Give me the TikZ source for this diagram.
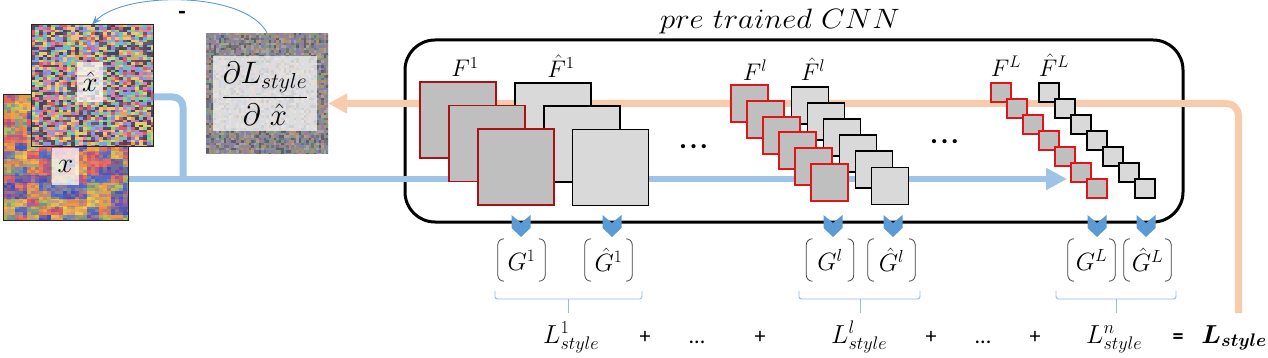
\RequirePackage{fix-cm}
\documentclass[tikz,border=0pt]{standalone}
\usepackage{fontspec}
\usepackage{bm}
\usetikzlibrary{arrows.meta,calc}
\newfontfamily\calfont{Carlito}
\definecolor{lblue}{HTML}{9DC3E6}
\definecolor{dblue}{HTML}{5B9BD5}
\definecolor{lorange}{HTML}{F8CBAD}
\definecolor{fdark}{HTML}{BFBFBF}
\definecolor{flight}{HTML}{D9D9D9}
\definecolor{redA}{HTML}{A81212}
\definecolor{redB}{HTML}{E01515}
\definecolor{bracecol}{HTML}{9DB9DD}
\definecolor{arccol}{HTML}{5B9BD5}
% x image palette
\definecolor{xa1}{HTML}{4050B8}\definecolor{xa2}{HTML}{F08848}
\definecolor{xa3}{HTML}{F0C850}\definecolor{xa4}{HTML}{E05868}
\definecolor{xa5}{HTML}{7858B0}\definecolor{xa6}{HTML}{5070C8}
\definecolor{xa7}{HTML}{98B868}\definecolor{xa8}{HTML}{E8A050}
% xhat palette
\definecolor{xb1}{HTML}{5A4A5E}\definecolor{xb2}{HTML}{E8A060}
\definecolor{xb3}{HTML}{E0D070}\definecolor{xb4}{HTML}{E080A8}
\definecolor{xb5}{HTML}{80A0E0}\definecolor{xb6}{HTML}{90D080}
\definecolor{xb7}{HTML}{A080D0}\definecolor{xb8}{HTML}{4E4256}
\definecolor{xb9}{HTML}{70C0C0}\definecolor{xb10}{HTML}{F0C080}
\definecolor{xb11}{HTML}{6A5870}\definecolor{xb12}{HTML}{D06070}
% gradient noise palette
\definecolor{gn1}{HTML}{8C8C8C}\definecolor{gn2}{HTML}{9A8096}
\definecolor{gn3}{HTML}{7C9A84}\definecolor{gn4}{HTML}{707478}
\definecolor{gn5}{HTML}{A8A0A0}\definecolor{gn6}{HTML}{8080B0}
\definecolor{gn7}{HTML}{B09070}\definecolor{gn8}{HTML}{5C6068}
\begin{document}
\begin{tikzpicture}[x=1pt,y=-1pt,
  imgframe/.style={draw=black!85,line width=1pt,inner sep=0pt},
  lblbox/.style={fill=white,fill opacity=0.72,text opacity=1,inner sep=0pt,font=\fontsize{28}{32}\selectfont},
  cnnbox/.style={draw=black,line width=3pt,rounded corners=30pt,minimum width=778pt,minimum height=182pt,inner sep=0pt},
  fsqA/.style={fill=fdark,draw=redA,line width=1.8pt,inner sep=0pt},
  fsqB/.style={fill=fdark,draw=redB,line width=2pt,inner sep=0pt},
  fhat/.style={fill=flight,draw=black,line width=1.8pt,inner sep=0pt},
  flabel/.style={font=\fontsize{24}{28}\selectfont,inner sep=0pt},
  bluel/.style={draw=lblue,line width=6pt},
  orangel/.style={draw=lorange,line width=7pt},
  mat/.style={minimum width=47pt,minimum height=42pt,inner sep=0pt,font=\fontsize{25}{29}\selectfont},
  paren/.style={draw=black!75,line width=0.8pt,rounded corners=6pt},
  brc/.style={draw=bracecol,line width=0.9pt},
  btxt/.style={anchor=base west,inner sep=0pt,font=\fontsize{26}{30}\selectfont},
  ptxt/.style={anchor=base,inner sep=0pt,font=\calfont\fontsize{22}{26}\selectfont},
  dots/.style={inner sep=0pt,font=\calfont\bfseries\fontsize{28}{32}\selectfont},
  chev/.pic={\fill[dblue] (-9.5,0) -- (0,8) -- (9.5,0) -- (9.5,13) -- (0,22) -- (-9.5,13) -- cycle;}
]
\useasboundingbox (0,0) rectangle (1268,358);
\pgfmathsetseed{7}
% ---------- x image ----------
\begin{scope}
\clip (3,95) rectangle (128,220);
\foreach \i in {0,...,10}{\foreach \j in {0,...,15}{%
  \pgfmathrandominteger{\c}{1}{8}%
  \fill[fill=xa\c] ({3+12*\i},{95+8*\j}) rectangle ++(12.3,8.3);}}
\foreach \i in {0,...,31}{\foreach \j in {0,...,41}{%
  \pgfmathrandominteger{\c}{1}{8}%
  \fill[fill=xa\c,fill opacity=0.35] ({3+4*\i},{95+3*\j}) rectangle ++(4,3);}}
\end{scope}
\node[imgframe,minimum width=125pt,minimum height=125pt] (ximg) at (65.5,157.5) {};
\node[lblbox,minimum width=27pt,minimum height=37pt] (xlab) at (65.5,166.5) {$x$};
% ---------- xhat image ----------
\begin{scope}
\clip (31,25) rectangle (153,147);
\foreach \i in {0,...,30}{\foreach \j in {0,...,48}{%
  \pgfmathrandominteger{\c}{1}{12}%
  \fill[fill=xb\c] ({31+4*\i},{25+2.5*\j}) rectangle ++(4.2,2.7);}}
\end{scope}
\node[imgframe,minimum width=122pt,minimum height=122pt] (xhat) at (92,86) {};
\node[lblbox,minimum width=26pt,minimum height=40pt] (xhlab) at (90,82) {$\hat{x}$};
% ---------- gradient image ----------
\begin{scope}
\clip (206,33) rectangle (328,154);
\foreach \i in {0,...,48}{\foreach \j in {0,...,48}{%
  \pgfmathrandominteger{\c}{1}{8}%
  \fill[fill=gn\c] ({206+2.5*\i},{33+2.5*\j}) rectangle ++(2.7,2.7);}}
\end{scope}
\node[inner sep=0pt,minimum width=122pt,minimum height=121pt] (grad) at (267,93.5) {};
\node[fill=white,fill opacity=0.7,inner sep=0pt,minimum width=104pt,minimum height=75pt] (gradin) at (265,93.5) {};
\node[inner sep=0pt,font=\fontsize{31}{36}\selectfont] (frac) at (265,94) {$\displaystyle\frac{\partial L_{style}}{\partial\ \hat{x}}$};
% ---------- update arc ----------
\draw[draw=arccol,line width=0.9pt,-{Stealth[length=9pt,width=7pt]}] (grad.north) .. controls (245,-9) and (125,-9) .. (xhat.north);
\node[inner sep=0pt,font=\calfont\bfseries\fontsize{24}{28}\selectfont] (minus) at (182,15) {-};
% ---------- CNN box ----------
\node[cnnbox] (cnn) at (794,131) {};
\node[inner sep=0pt,font=\fontsize{28}{32}\selectfont] (ttl) at (780,22) {\scalebox{1.1}[1]{$pre\ trained\ CNN$}};
% ---------- flow lines ----------
\coordinate (blueend) at (1067,179);
\coordinate (join) at (183,179);
\coordinate (ostart) at (1238.5,313);
\coordinate (oy) at (0,103.5);
\draw[bluel,-{Triangle[length=21pt,width=21pt]}] ($(ximg.east)+(0,21.5)$) -- (blueend);
\draw[bluel,line width=7pt,rounded corners=10pt] ($(xhat.east)+(0,11)$) -| (join);
\draw[orangel,rounded corners=12pt,-{Triangle[length=19pt,width=19pt]}] (ostart) |- (grad.east |- oy);
% ---------- feature maps ----------
\foreach \k in {0,1,2}{\node[fhat,minimum size=76pt] (fh1-\k) at ({553+28.75*\k},{121+23.25*\k}) {};}
\foreach \k in {0,1,2}{\node[fsqA,minimum size=76pt] (f1-\k) at ({458+29*\k},{120+23.5*\k}) {};}
\foreach \k in {0,...,5}{\node[fhat,minimum size=37pt] (fhl-\k) at ({810+16*\k},{105.5+16.1*\k}) {};}
\foreach \k in {0,...,5}{\node[fsqB,minimum size=37pt] (fl-\k) at ({749.5+16*\k},{103.5+15.8*\k}) {};}
\foreach \k in {0,...,6}{\node[fhat,minimum size=19.5pt] (fhL-\k) at ({1049+16*\k},{92.5+16*\k}) {};}
\foreach \k in {0,...,6}{\node[fsqB,minimum size=19.5pt] (fL-\k) at ({1001+16*\k},{92.5+16*\k}) {};}
\node[flabel] (lf1) at (465,67) {$F^{1}$};
\node[flabel] (lfh1) at (561,66) {$\hat{F}^{1}$};
\node[flabel] (lfl) at (755,70) {$F^{l}$};
\node[flabel] (lfhl) at (813,69) {$\hat{F}^{l}$};
\node[flabel] (lfL) at (1006,66) {$F^{L}$};
\node[flabel] (lfhL) at (1054,65) {$\hat{F}^{L}$};
\node[dots] (d1) at (693.5,147) {.\kern3pt.\kern3pt.};
\node[dots] (d2) at (944.5,142) {.\kern3pt.\kern3pt.};
% ---------- chevrons ----------
\foreach \cx in {521,612,833,893,1097,1146}{\pic at (\cx,215) {chev};}
% ---------- gram matrices ----------
\node[mat] (g1) at (521.5,260) {$G^{1}$};
\node[mat] (gh1) at (608.5,260) {$\hat{G}^{1}$};
\node[mat] (gl) at (830,260) {$G^{l}$};
\node[mat] (ghl) at (891.5,260) {$\hat{G}^{l}$};
\node[mat] (gL) at (1091.5,260) {$G^{L}$};
\node[mat] (ghL) at (1147.5,260) {$\hat{G}^{L}$};
\foreach \n in {g1,gh1,gl,ghl,gL,ghL}{%
  \draw[paren] ([xshift=6pt]\n.north west) -- (\n.north west) -- (\n.south west) -- ([xshift=6pt]\n.south west);
  \draw[paren] ([xshift=-6pt]\n.north east) -- (\n.north east) -- (\n.south east) -- ([xshift=-6pt]\n.south east);}
% ---------- braces ----------
\foreach \a/\m/\b in {495/568/642,799/860/920,1056/1116/1176}{%
  \draw[brc,rounded corners=2.5pt] (\a,291) -- (\a,299) -- (\m,299);
  \draw[brc,rounded corners=2.5pt] (\b,291) -- (\b,299) -- (\m,299);
  \draw[brc] (\m,299) -- (\m,313);}
% ---------- loss sum ----------
\node[btxt] (ls1) at (543,343) {$L^{1}_{style}$};
\node[ptxt] (p1) at (645,343) {+};
\node[ptxt] (e1) at (697,343) {...};
\node[ptxt] (p2) at (760,343) {+};
\node[btxt] (lsl) at (831,343) {$L^{l}_{style}$};
\node[ptxt] (p3) at (931,343) {+};
\node[ptxt] (e2) at (983,343) {...};
\node[ptxt] (p4) at (1035,343) {+};
\node[btxt] (lsn) at (1086,343) {$L^{n}_{style}$};
\node[ptxt,font=\calfont\bfseries\fontsize{22}{26}\selectfont] (eq) at (1178,343) {=};
\node[btxt,anchor=base east] (ls) at (1267,343) {$\bm{L_{style}}$};
\end{tikzpicture}
\end{document}
